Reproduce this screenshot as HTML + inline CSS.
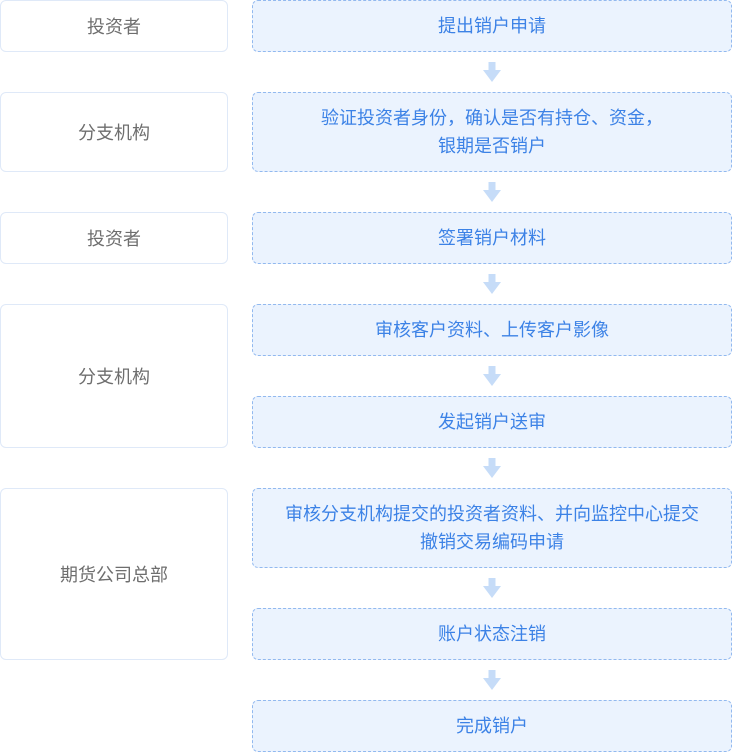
<!DOCTYPE html>
<html>
<head>
<meta charset="utf-8">
<style>
  html, body { margin:0; padding:0; background:#ffffff; }
  body { width:732px; height:752px; position:relative; overflow:hidden;
         font-family:"Liberation Sans","Noto Sans CJK SC",sans-serif; }
  .l { position:absolute; left:0; border:1px solid #dfe9f8; border-radius:6px;
       background:#fff; box-sizing:border-box; width:228px;
       display:flex; align-items:center; justify-content:center;
       color:#6e6e6e; font-size:18px; }
  .r { position:absolute; left:252px; width:480px; box-sizing:border-box;
       border:1px dashed #92b9ef; border-radius:6px; background:#ebf3fe;
       display:flex; align-items:center; justify-content:center; text-align:center;
       color:#3c82e6; font-size:18px; line-height:28px; }
  .a { position:absolute; left:483px; width:18px; height:20px; }
</style>
</head>
<body>
  <div class="l" style="top:0;height:52px;">投资者</div>
  <div class="l" style="top:92px;height:80px;">分支机构</div>
  <div class="l" style="top:212px;height:52px;">投资者</div>
  <div class="l" style="top:304px;height:144px;">分支机构</div>
  <div class="l" style="top:488px;height:172px;">期货公司总部</div>

  <div class="r" style="top:0;height:52px;">提出销户申请</div>
  <div class="r" style="top:92px;height:80px;">验证投资者身份，确认是否有持仓、资金，<br>银期是否销户</div>
  <div class="r" style="top:212px;height:52px;">签署销户材料</div>
  <div class="r" style="top:304px;height:52px;">审核客户资料、上传客户影像</div>
  <div class="r" style="top:396px;height:52px;">发起销户送审</div>
  <div class="r" style="top:488px;height:80px;">审核分支机构提交的投资者资料、并向监控中心提交<br>撤销交易编码申请</div>
  <div class="r" style="top:608px;height:52px;">账户状态注销</div>
  <div class="r" style="top:700px;height:52px;">完成销户</div>

  <svg class="a" style="top:62px" viewBox="0 0 18 20"><path d="M5.5 0 H12.5 V8 H18 L9 20 L0 8 H5.5 Z" fill="#c6dcf8"/></svg>
  <svg class="a" style="top:182px" viewBox="0 0 18 20"><path d="M5.5 0 H12.5 V8 H18 L9 20 L0 8 H5.5 Z" fill="#c6dcf8"/></svg>
  <svg class="a" style="top:274px" viewBox="0 0 18 20"><path d="M5.5 0 H12.5 V8 H18 L9 20 L0 8 H5.5 Z" fill="#c6dcf8"/></svg>
  <svg class="a" style="top:366px" viewBox="0 0 18 20"><path d="M5.5 0 H12.5 V8 H18 L9 20 L0 8 H5.5 Z" fill="#c6dcf8"/></svg>
  <svg class="a" style="top:458px" viewBox="0 0 18 20"><path d="M5.5 0 H12.5 V8 H18 L9 20 L0 8 H5.5 Z" fill="#c6dcf8"/></svg>
  <svg class="a" style="top:578px" viewBox="0 0 18 20"><path d="M5.5 0 H12.5 V8 H18 L9 20 L0 8 H5.5 Z" fill="#c6dcf8"/></svg>
  <svg class="a" style="top:670px" viewBox="0 0 18 20"><path d="M5.5 0 H12.5 V8 H18 L9 20 L0 8 H5.5 Z" fill="#c6dcf8"/></svg>
</body>
</html>
